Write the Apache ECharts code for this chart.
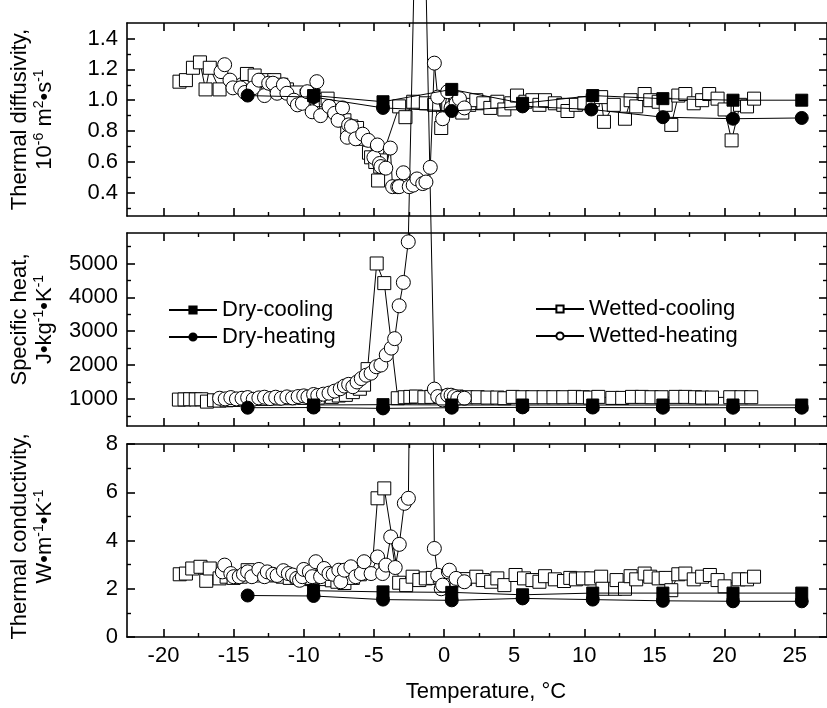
<!DOCTYPE html>
<html>
<head>
<meta charset="utf-8">
<script src="https://cdn.jsdelivr.net/npm/echarts@6/dist/echarts.min.js"></script>
<style>
  html, body { margin: 0; padding: 0; background: #fff; }
  #chart { width: 827px; height: 708px; }
</style>
</head>
<body>
<div id="chart"></div>
<script>
// temperature axis
const xMin = -22.6, xMax = 27.3
const xMajor = [-20, -15, -10, -5, 0, 5, 10, 15, 20, 25]
const xMinor = [-17.5, -12.5, -7.5, -2.5, 2.5, 7.5, 12.5, 17.5, 22.5]

// y ranges and ticks of the three panels
const yRanges = [[0.25, 1.5], [200, 5900], [0, 8]]
const yMajor = [[0.4, 0.6, 0.8, 1.0, 1.2, 1.4], [1000, 2000, 3000, 4000, 5000], [0, 2, 4, 6, 8]]
const yMinor = [[0.3, 0.5, 0.7, 0.9, 1.1, 1.3], [500, 1500, 2500, 3500, 4500, 5500], [1, 3, 5, 7]]

// thermal diffusivity, 10^-6 m2/s
const dryCoolTop = [[-9.3, 1.03], [-4.35, 0.99], [0.55, 1.07], [5.6, 0.98], [10.6, 1.03], [15.6, 1.01], [20.6, 1.0], [25.5, 1.0]]
const dryHeatTop = [[-14, 1.03], [-9.3, 1.02], [-4.35, 0.95], [0.55, 0.93], [5.6, 0.96], [10.5, 0.94], [15.6, 0.89], [20.6, 0.88], [25.5, 0.885]]
const wetCoolTop = [[-18.86, 1.12], [-18.4, 1.13], [-17.9, 1.21], [-17.4, 1.245], [-17.0, 1.07], [-16.7, 1.21], [-16.0, 1.07],
  [-14.05, 1.17], [-13.5, 1.16], [-12.8, 1.13], [-12.1, 1.13], [-11.6, 1.1], [-11.2, 1.07], [-10.5, 1.05], [-9.8, 1.03],
  [-9.3, 1.03], [-8.8, 1.0], [-8.3, 1.01], [-7.6, 0.93], [-7.1, 0.87], [-6.9, 0.8], [-6.6, 0.83], [-6.2, 0.82], [-5.8, 0.75],
  [-5.35, 0.66], [-5.2, 0.63], [-4.9, 0.6], [-4.7, 0.48], [-4.55, 0.57], [-4.5, 0.61], [-3.2, 0.96], [-2.75, 0.89],
  [-2.2, 0.99], [-1.3, 0.98], [-0.7, 0.97], [-0.2, 0.82], [0.3, 0.97], [0.8, 0.99], [1.3, 0.92], [1.8, 0.97], [2.3, 1.0],
  [2.8, 0.98], [3.3, 0.95], [3.8, 0.99], [4.3, 0.94], [4.8, 0.98], [5.2, 1.03], [5.8, 0.99], [6.3, 1.0], [6.8, 0.97],
  [7.2, 1.0], [7.9, 0.98], [8.5, 0.97], [8.8, 0.93], [9.4, 0.97], [10.0, 0.98], [10.6, 1.0], [11.2, 1.02], [11.4, 0.86],
  [12.1, 0.97], [12.9, 0.88], [13.3, 1.0], [13.7, 0.96], [14.3, 1.04], [14.7, 1.0], [15.3, 0.99], [15.8, 0.97], [16.2, 0.84],
  [16.7, 1.03], [17.2, 1.04], [17.8, 0.98], [18.4, 1.0], [18.9, 1.04], [19.5, 1.01], [20.0, 0.94], [20.5, 0.74], [21.1, 0.97],
  [21.6, 0.96], [22.1, 1.01]]
const wetHeatTop = [[-15.9, 1.185], [-15.64, 1.23], [-15.26, 1.13], [-15.05, 1.08], [-14.5, 1.08], [-14.2, 1.05], [-13.6, 1.08],
  [-13.2, 1.13], [-12.8, 1.03], [-12.5, 1.11], [-12.2, 1.11], [-11.9, 1.045], [-11.45, 1.1], [-11.2, 1.045], [-10.7, 1.0],
  [-10.45, 0.97], [-10.1, 0.98], [-9.75, 1.055], [-9.4, 0.925], [-9.07, 1.12], [-8.8, 0.9], [-8.2, 0.96], [-7.8, 0.915],
  [-7.55, 0.87], [-7.24, 0.95], [-6.9, 0.76], [-6.8, 0.84], [-6.6, 0.83], [-6.3, 0.75], [-5.8, 0.78], [-5.4, 0.74], [-5.0, 0.63],
  [-4.75, 0.71], [-4.6, 0.59], [-4.5, 0.57], [-4.15, 0.56], [-3.83, 0.69], [-3.67, 0.44], [-3.3, 0.44], [-3.2, 0.44],
  [-2.9, 0.53], [-2.48, 0.44], [-2.2, 0.45], [-1.93, 0.49], [-1.52, 0.46], [-1.29, 0.47], [-0.98, 0.565], [-0.69, 1.24],
  [-0.45, 1.02], [-0.1, 0.88], [0.26, 1.055], [0.5, 0.95], [0.86, 0.98], [1.1, 1.01], [1.45, 0.95]]

// specific heat, J/(kg K)
const dryCoolMid = [[-9.3, 820], [-4.35, 830], [0.55, 820], [5.6, 820], [10.6, 820], [15.6, 820], [20.6, 820], [25.5, 820]]
const dryHeatMid = [[-14, 740], [-9.3, 745], [-4.35, 720], [0.55, 740], [5.6, 750], [10.6, 745], [15.6, 740], [20.6, 740], [25.5, 740]]
const wetCoolMid = [[-18.9, 980], [-18.5, 985], [-18.1, 990], [-17.7, 985], [-17.3, 990], [-16.9, 920], [-16.4, 960], [-16.0, 950],
  [-15.5, 960], [-15.0, 970], [-14.5, 980], [-14.0, 990], [-13.0, 1000], [-12.0, 1010], [-11.0, 1020], [-10.0, 1030],
  [-9.0, 1040], [-8.0, 1060], [-7.5, 1100], [-7.0, 1120], [-6.5, 1200], [-6.0, 1300], [-5.7, 1420], [-5.45, 1880],
  [-4.8, 5000], [-4.26, 4420], [-3.3, 1020], [-2.8, 1050], [-2.4, 1060], [-2.0, 1070], [-1.4, 1050], [-0.9, 1060],
  [-0.3, 1080], [0.3, 1060], [0.9, 1070], [1.6, 1050], [2.4, 1050], [3.1, 1040], [3.8, 1040], [4.3, 1020], [4.9, 1060],
  [5.6, 1050], [6.3, 1050], [7.1, 1050], [7.8, 1050], [8.5, 1050], [9.3, 1060], [9.9, 1050], [10.4, 1040], [11.0, 1060],
  [12.0, 1030], [12.7, 1030], [13.4, 1060], [14.1, 1060], [14.8, 1050], [15.5, 1050], [16.5, 1060], [17.2, 1060],
  [17.9, 1050], [18.4, 1040], [19.1, 1040], [20.4, 1050], [21.2, 1050], [21.9, 1050]]
const wetHeatMid = [[-16.0, 1020], [-15.6, 1000], [-15.2, 1040], [-14.8, 1000], [-14.4, 1020], [-14.0, 1040], [-13.6, 990],
  [-13.2, 1030], [-12.8, 1050], [-12.4, 1010], [-12.0, 1050], [-11.6, 1020], [-11.2, 1060], [-10.8, 1030], [-10.4, 1070],
  [-10.0, 1090], [-9.7, 1060], [-9.3, 1130], [-9.0, 1100], [-8.6, 1140], [-8.2, 1170], [-7.8, 1230], [-7.4, 1300],
  [-7.1, 1380], [-6.8, 1430], [-6.5, 1360], [-6.2, 1500], [-5.9, 1600], [-5.55, 1700], [-5.2, 1760], [-4.83, 1950],
  [-4.5, 2000], [-4.12, 2300], [-3.76, 2500], [-3.52, 2780], [-3.2, 3750], [-2.9, 4440], [-2.55, 5640], [-1.7, 21600],
  [-0.69, 1290], [-0.45, 1070], [-0.1, 970], [0.26, 1110], [0.5, 1110], [0.74, 1070], [0.98, 1020], [1.45, 1020]]

// thermal conductivity, W/(m K)
const dryCoolBot = [[-9.3, 1.92], [-4.35, 1.87], [0.55, 1.85], [5.6, 1.75], [10.6, 1.82], [15.6, 1.82], [20.6, 1.82], [25.5, 1.82]]
const dryHeatBot = [[-14, 1.72], [-9.3, 1.7], [-4.35, 1.55], [0.55, 1.52], [5.6, 1.6], [10.6, 1.55], [15.6, 1.5], [20.6, 1.48], [25.5, 1.48]]
const wetCoolBot = [[-18.84, 2.6], [-18.4, 2.63], [-17.95, 2.84], [-17.36, 2.91], [-16.95, 2.33], [-16.7, 2.84], [-16.0, 2.43],
  [-15.5, 2.5], [-15.0, 2.45], [-14.5, 2.5], [-14.0, 2.77], [-13.5, 2.6], [-13.0, 2.55], [-12.5, 2.6], [-12.0, 2.55],
  [-11.5, 2.5], [-11.0, 2.45], [-10.5, 2.5], [-10.0, 2.4], [-9.5, 2.45], [-9.0, 2.5], [-8.5, 2.4], [-8.0, 2.35], [-7.6, 2.29],
  [-7.1, 2.24], [-6.5, 2.45], [-6.0, 2.6], [-5.5, 2.75], [-5.1, 3.0], [-4.74, 5.75], [-4.26, 6.16], [-3.2, 2.25], [-2.7, 2.15],
  [-2.24, 2.5], [-1.76, 2.36], [-1.3, 2.43], [-0.8, 2.45], [-0.3, 2.5], [0.3, 2.4], [0.9, 2.35], [1.5, 2.4], [2.3, 2.5],
  [2.76, 2.36], [3.36, 2.29], [3.8, 2.43], [4.3, 2.15], [5.1, 2.57], [5.7, 2.43], [6.3, 2.36], [6.8, 2.29], [7.2, 2.52],
  [7.9, 2.39], [8.55, 2.32], [9.0, 2.45], [9.4, 2.39], [9.9, 2.43], [10.5, 2.43], [11.2, 2.5], [11.3, 2.0], [12.2, 2.0],
  [12.3, 2.36], [12.9, 2.0], [13.3, 2.52], [13.7, 2.39], [14.3, 2.63], [14.7, 2.5], [15.3, 2.43], [15.8, 2.45], [16.2, 1.94],
  [16.7, 2.6], [17.2, 2.63], [17.8, 2.39], [18.4, 2.5], [18.95, 2.57], [19.5, 2.36], [20.0, 2.1], [21.0, 2.39], [21.6, 2.39],
  [22.1, 2.5]]
const wetHeatBot = [[-15.8, 2.7], [-15.64, 2.98], [-15.2, 2.63], [-15.0, 2.5], [-14.6, 2.5], [-14.3, 2.6], [-14.0, 2.7],
  [-13.7, 2.5], [-13.2, 2.8], [-12.8, 2.5], [-12.6, 2.7], [-12.2, 2.6], [-11.9, 2.55], [-11.45, 2.75], [-11.1, 2.63],
  [-10.8, 2.57], [-10.5, 2.43], [-10.3, 2.35], [-10.1, 2.5], [-10.0, 2.8], [-9.6, 2.7], [-9.4, 2.5], [-9.14, 3.12], [-8.8, 2.5],
  [-8.55, 2.84], [-8.2, 2.63], [-7.9, 2.6], [-7.5, 2.77], [-7.36, 2.29], [-7.1, 2.77], [-6.64, 2.91], [-6.3, 2.5], [-5.9, 2.63],
  [-5.7, 3.12], [-5.2, 2.63], [-4.74, 3.32], [-4.38, 2.63], [-4.14, 2.98], [-3.8, 4.15], [-3.48, 2.88], [-3.19, 3.84],
  [-2.83, 5.54], [-2.54, 5.75], [-1.6, 60], [-0.69, 3.67], [-0.45, 2.56], [-0.2, 2.0], [-0.1, 2.15], [0.31, 2.7], [0.38, 2.77],
  [0.86, 2.43], [1.45, 2.29]]

const yNames = [
  '{n|Thermal diffusivity,}\n{n|10}{s|-6}{n| m}{s|2}{n|•s}{s|-1}',
  '{n|Specific heat,}\n{n|J•kg}{s|-1}{n|•K}{s|-1}',
  '{n|Thermal conductivity,}\n{n|W•m}{s|-1}{n|•K}{s|-1}',
]
// shifts the rotated titles up the axis a little
const yNamePad = [[0, 0, 0, 0], [0, 0, 0, 20], [0, 0, 0, 8]]
const labelFmt = [v => v.toFixed(1), v => String(v), v => String(v)]

const font = 'Liberation Sans, Arial, sans-serif'
const black = '#000'
const gridTops = [23, 233, 444]

const grids = gridTops.map(t => ({ left: 127, width: 700, top: t, height: 193, outerBoundsMode: 'none' }))

const xAxes = []
const yAxes = []
gridTops.forEach((t, g) => {
  const bx = { gridIndex: g, type: 'value', min: xMin, max: xMax, splitLine: { show: false } }
  const line = { onZero: false, lineStyle: { color: black, width: 1.6 } }
  const noLine = { show: false, onZero: false }
  const major = vals => ({ inside: true, length: 8, customValues: vals, lineStyle: { color: black, width: 1.6 } })
  const minor = vals => ({ inside: true, length: 4, customValues: vals, lineStyle: { color: black, width: 1.4 } })
  xAxes.push({
    ...bx, position: 'bottom', axisLine: line, axisTick: major(xMajor),
    axisLabel: { show: g === 2, customValues: xMajor, fontSize: 22, color: black, fontFamily: font, margin: 8 },
    name: g === 2 ? 'Temperature, °C' : '', nameLocation: 'middle', nameGap: 44,
    nameTextStyle: { fontSize: 22, color: black, fontFamily: font, padding: [0, 0, 0, 18] },
  })
  xAxes.push({ ...bx, position: 'bottom', axisLine: noLine, axisTick: minor(xMinor), axisLabel: { show: false } })
  xAxes.push({ ...bx, position: 'top', axisLine: line, axisTick: major(xMajor), axisLabel: { show: false } })
  xAxes.push({ ...bx, position: 'top', axisLine: noLine, axisTick: minor(xMinor), axisLabel: { show: false } })

  const by = { gridIndex: g, type: 'value', min: yRanges[g][0], max: yRanges[g][1], splitLine: { show: false } }
  yAxes.push({
    ...by, position: 'left', axisLine: line, axisTick: major(yMajor[g]),
    axisLabel: { customValues: yMajor[g], formatter: labelFmt[g], fontSize: 22, color: black, fontFamily: font, margin: 9 },
    name: yNames[g], nameLocation: 'middle', nameRotate: 90, nameGap: 70,
    nameTextStyle: {
      fontFamily: font, color: black, fontSize: 22, lineHeight: 25, padding: yNamePad[g],
      rich: {
        n: { fontFamily: font, color: black, fontSize: 22, lineHeight: 25 },
        s: { fontFamily: font, color: black, fontSize: 14, lineHeight: 14, verticalAlign: 'top' },
      },
    },
  })
  yAxes.push({ ...by, position: 'left', axisLine: noLine, axisTick: minor(yMinor[g]), axisLabel: { show: false } })
  yAxes.push({ ...by, position: 'right', axisLine: line, axisTick: major(yMajor[g]), axisLabel: { show: false } })
  yAxes.push({ ...by, position: 'right', axisLine: noLine, axisTick: minor(yMinor[g]), axisLabel: { show: false } })
})

const styles = {
  'Wetted-cooling': { symbol: 'rect', symbolSize: 13, fill: '#fff' },
  'Wetted-heating': { symbol: 'circle', symbolSize: 14, fill: '#fff' },
  'Dry-cooling': { symbol: 'rect', symbolSize: 12, fill: '#000' },
  'Dry-heating': { symbol: 'circle', symbolSize: 13, fill: '#000' },
}

const panels = [
  { 'Wetted-cooling': wetCoolTop, 'Wetted-heating': wetHeatTop, 'Dry-cooling': dryCoolTop, 'Dry-heating': dryHeatTop },
  { 'Wetted-cooling': wetCoolMid, 'Wetted-heating': wetHeatMid, 'Dry-cooling': dryCoolMid, 'Dry-heating': dryHeatMid },
  { 'Wetted-cooling': wetCoolBot, 'Wetted-heating': wetHeatBot, 'Dry-cooling': dryCoolBot, 'Dry-heating': dryHeatBot },
]

const series = []
panels.forEach((p, g) => {
  Object.keys(p).forEach((name, k) => {
    const st = styles[name]
    const yMax = yRanges[g][1]
    series.push({
      name: name,
      type: 'line',
      xAxisIndex: g * 4,
      yAxisIndex: g * 4,
      // off-scale points only steer the line, no marker
      data: p[name].map(d => d[1] > yMax ? { value: d, symbol: 'none' } : d),
      symbol: st.symbol,
      symbolSize: st.symbolSize,
      showAllSymbol: true,
      clip: !(g === 1 && name === 'Wetted-heating'),
      z: 2 + k,
      itemStyle: { color: st.fill, borderColor: black, borderWidth: 1, opacity: 1 },
      lineStyle: { color: black, width: 1 },
      emphasis: { disabled: true },
    })
  })
})

const legendBase = {
  orient: 'vertical', itemWidth: 48, itemHeight: 9, itemGap: 5,
  textStyle: { fontSize: 22, color: black, fontFamily: font },
}

const myChart = echarts.init(document.getElementById('chart'), null, { renderer: 'canvas' })
myChart.setOption({
  animation: false,
  backgroundColor: '#fff',
  textStyle: { fontFamily: font },
  grid: grids,
  xAxis: xAxes,
  yAxis: yAxes,
  legend: [
    { ...legendBase, data: ['Dry-cooling', 'Dry-heating'], left: 163, top: 294 },
    { ...legendBase, data: ['Wetted-cooling', 'Wetted-heating'], left: 530, top: 293 },
  ],
  series: series,
})
</script>
</body>
</html>
